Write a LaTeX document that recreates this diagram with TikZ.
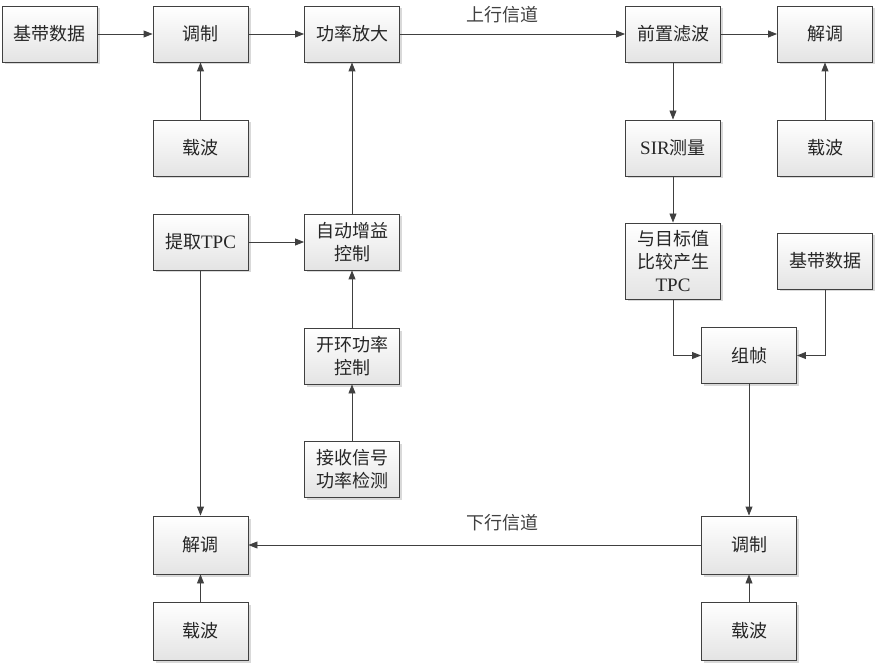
\documentclass[tikz,border=0pt]{standalone}
\usepackage{fontspec}
\setmainfont{Noto Sans CJK SC}
\newfontfamily\lat{Liberation Serif}
\usetikzlibrary{arrows.meta,shadows}
\definecolor{linec}{HTML}{404040}
\definecolor{boxb}{HTML}{E4E4E4}
\tikzset{
  blk/.style={draw=linec, line width=0.9pt, minimum width=95pt, minimum height=56pt,
    top color=white, bottom color=boxb, align=center, inner sep=1pt,
    font=\fontsize{18}{23}\selectfont, text=black!85,
    drop shadow={shadow xshift=2.5pt, shadow yshift=-2.5pt, fill=black!25, opacity=0.6}},
  arr/.style={draw=linec, line width=0.9pt, -{Triangle[length=9pt,width=7pt]}},
  lbl/.style={font=\fontsize{18}{22}\selectfont, text=black!75}
}
\begin{document}
\begin{tikzpicture}[x=1pt,y=-1pt]
\useasboundingbox (0,0) rectangle (876,663);
\node[blk] (bb1) at (49.5,34) {基带数据};
\node[blk] (mod1) at (200.5,34) {调制};
\node[blk] (pa) at (352,34) {功率放大};
\node[blk] (pre) at (673,34) {前置滤波};
\node[blk] (dem1) at (825,34) {解调};
\node[blk] (car1) at (200.5,148) {载波};
\node[blk] (sir) at (673,148) {{\lat\fontsize{19}{23}\selectfont SIR}测量};
\node[blk] (car2) at (825,148) {载波};
\node[blk] (tpc) at (200.5,242) {提取{\lat\fontsize{19}{23}\selectfont TPC}};
\node[blk] (agc) at (352,242) {自动增益\\控制};
\node[blk, minimum height=76pt] (cmp) at (673,261) {与目标值\\比较产生\\{\lat\fontsize{19}{23}\selectfont TPC}};
\node[blk] (bb2) at (825,261) {基带数据};
\node[blk] (frm) at (749,355.5) {组帧};
\node[blk] (olpc) at (352,356) {开环功率\\控制};
\node[blk] (rx) at (352,469) {接收信号\\功率检测};
\node[blk, minimum height=58pt] (dem2) at (200.5,545) {解调};
\node[blk, minimum height=58pt] (mod2) at (749,545) {调制};
\node[blk, minimum height=58pt] (car3) at (200.5,631) {载波};
\node[blk, minimum height=58pt] (car4) at (749,631) {载波};

\draw[arr] (bb1) -- (mod1);
\draw[arr] (mod1) -- (pa);
\draw[arr] (pa) -- node[lbl, pos=0.454, yshift=19pt] (up) {上行信道} (pre);
\draw[arr] (pre) -- (dem1);
\draw[arr] (car1) -- (mod1);
\draw[arr] (agc) -- (pa);
\draw[arr] (tpc) -- (agc);
\draw[arr] (olpc) -- (agc);
\draw[arr] (rx) -- (olpc);
\draw[arr] (tpc) -- (dem2);
\draw[arr] (car3) -- (dem2);
\draw[arr] (mod2) -- node[lbl, pos=0.438, yshift=22pt] (down) {下行信道} (dem2);
\draw[arr] (car4) -- (mod2);
\draw[arr] (frm) -- (mod2);
\draw[arr] (pre) -- (sir);
\draw[arr] (sir) -- (cmp);
\draw[arr] (car2) -- (dem1);
\draw[arr] (cmp.south) |- (frm.west);
\draw[arr] (bb2.south) |- (frm.east);
\end{tikzpicture}
\end{document}
